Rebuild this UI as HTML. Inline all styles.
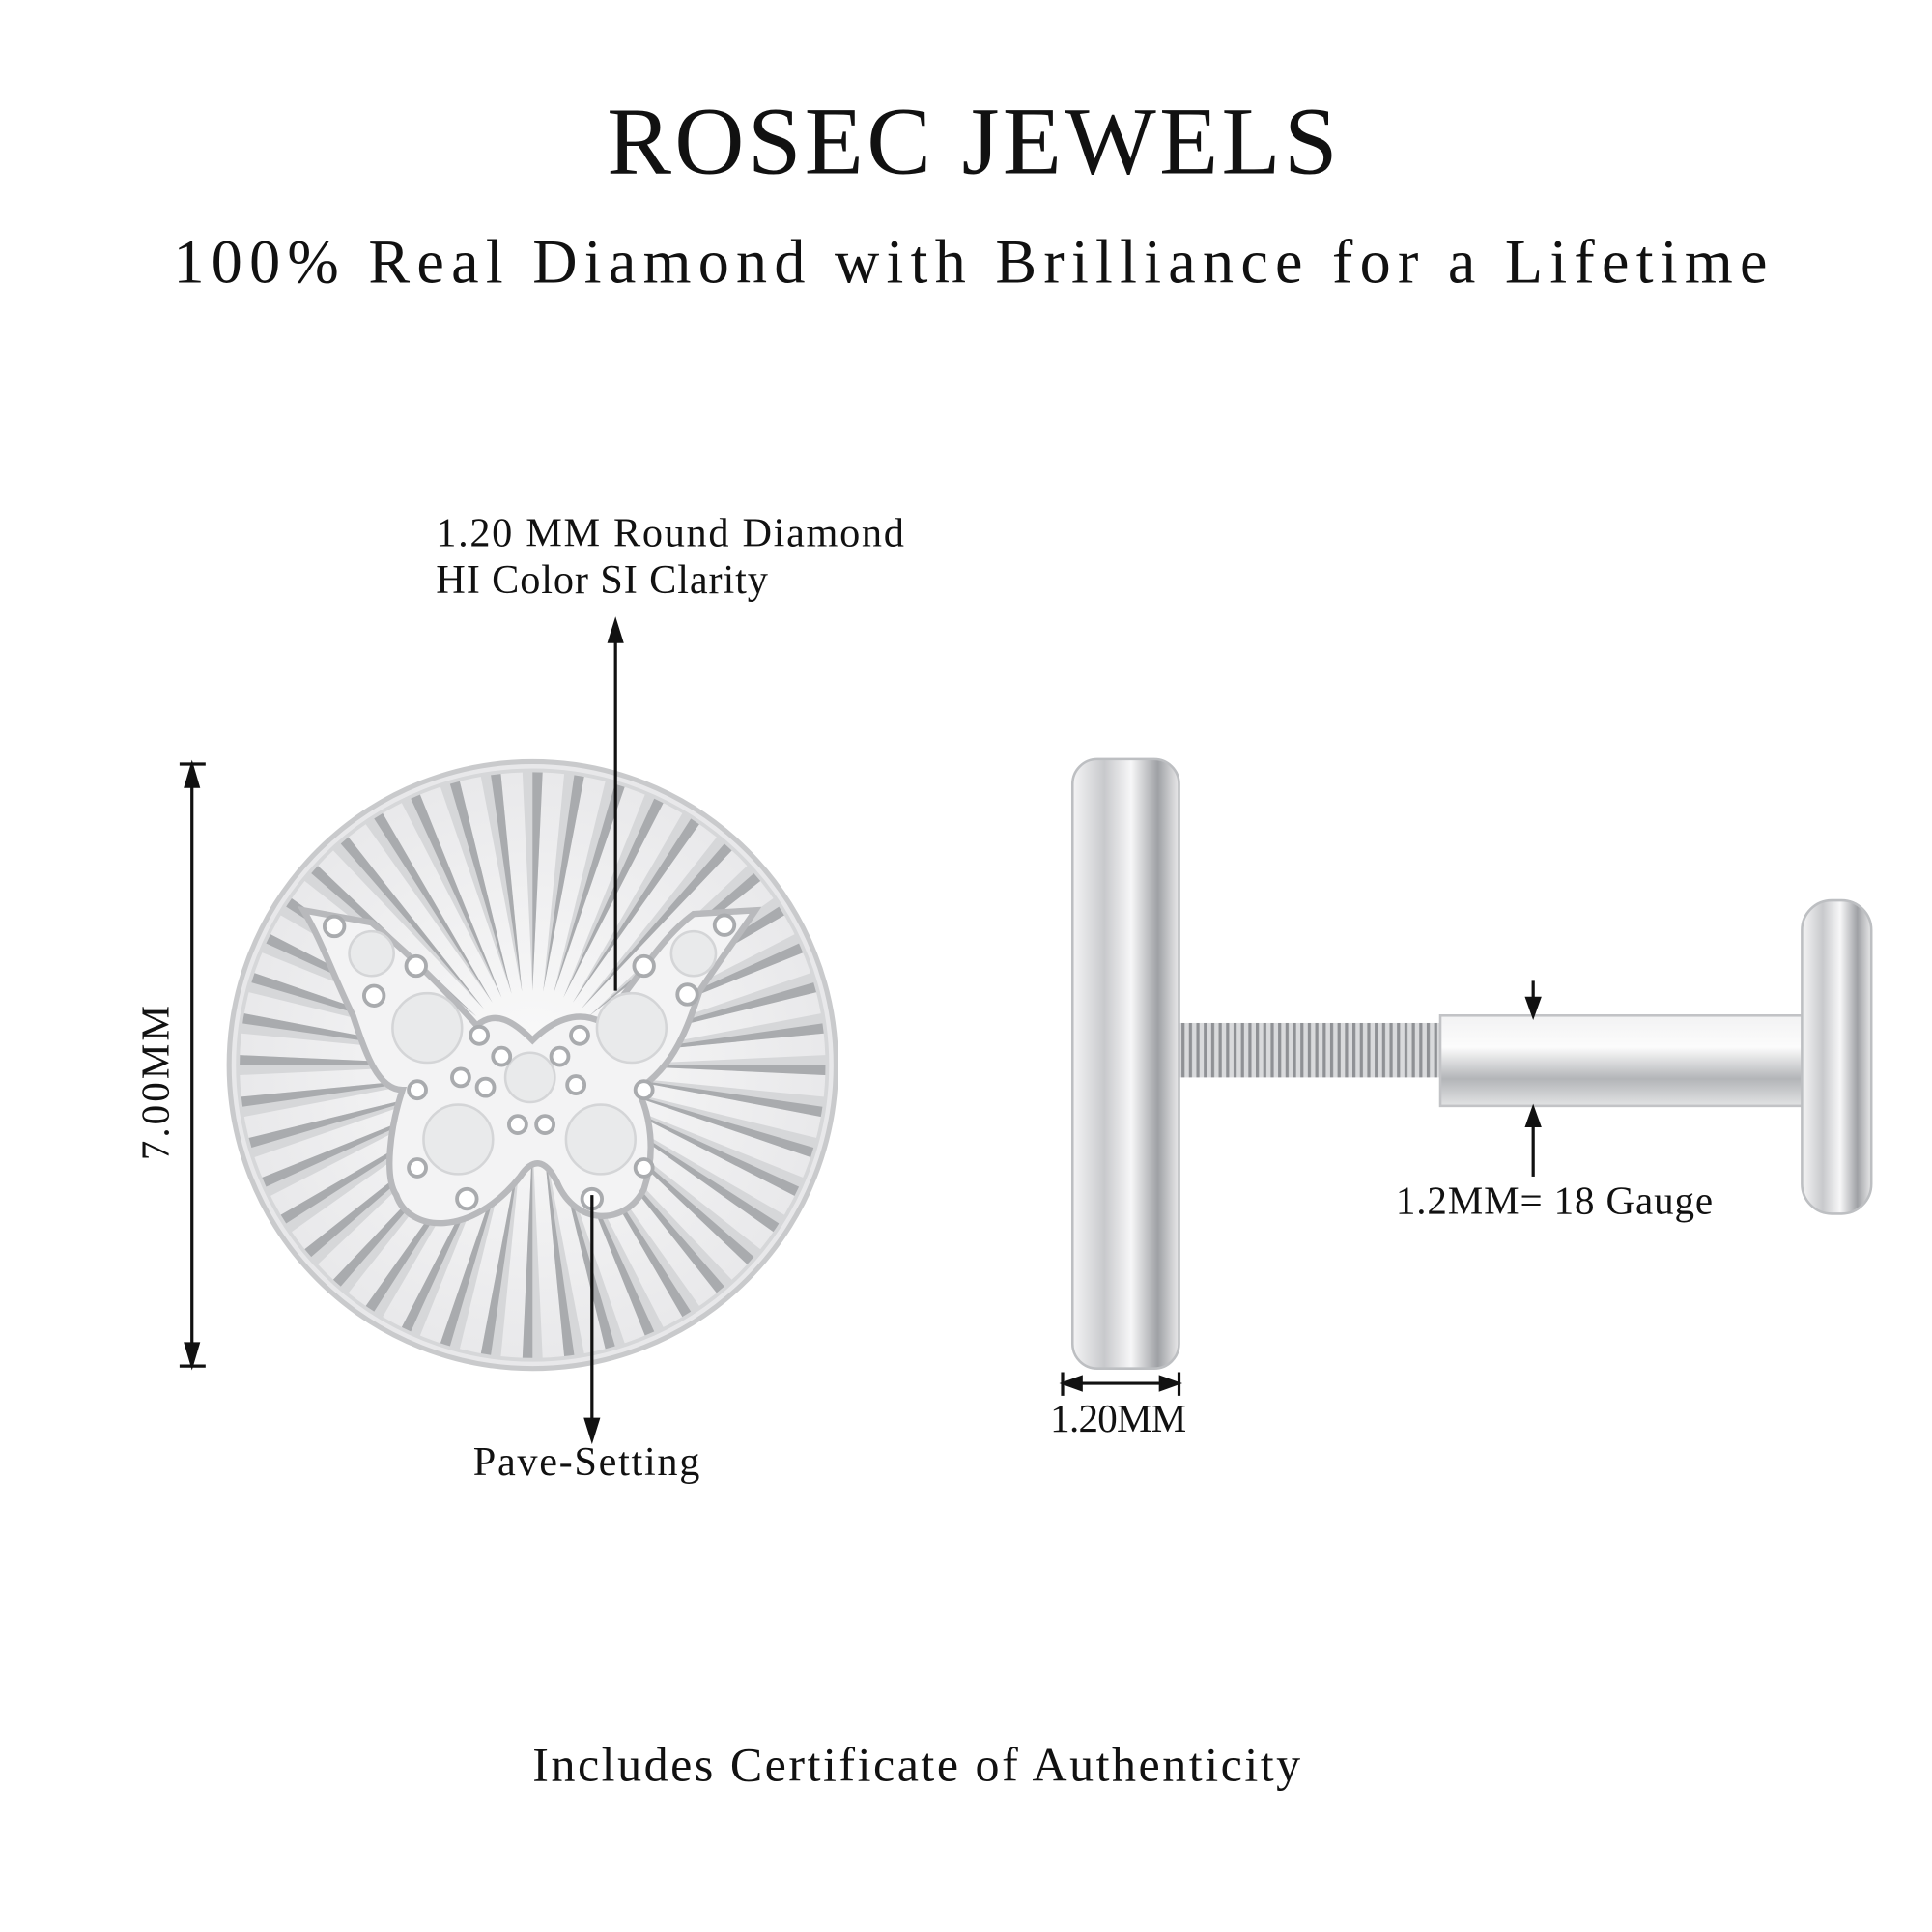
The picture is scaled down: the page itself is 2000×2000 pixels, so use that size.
<!DOCTYPE html>
<html><head><meta charset="utf-8"><style>
html,body{margin:0;padding:0;background:#fff}
svg{display:block}
text{font-family:"Liberation Serif","DejaVu Serif",serif;fill:#111}
</style></head><body>
<svg width="2000" height="2000" viewBox="0 0 1560 1560" xmlns="http://www.w3.org/2000/svg">
<defs>
<radialGradient id="coin" cx="50%" cy="50%" r="50%">
<stop offset="0" stop-color="#fafafa"/><stop offset="1" stop-color="#e8e8ea"/></radialGradient>
<linearGradient id="disc" x1="0" x2="1"><stop offset="0" stop-color="#f4f4f5"/><stop offset="0.3" stop-color="#c8c9cc"/><stop offset="0.55" stop-color="#f7f7f8"/><stop offset="0.8" stop-color="#9fa1a5"/><stop offset="1" stop-color="#e9e9ea"/></linearGradient>
<linearGradient id="post" x1="0" y1="0" x2="0" y2="1"><stop offset="0" stop-color="#f2f2f3"/><stop offset="0.35" stop-color="#fcfcfc"/><stop offset="0.7" stop-color="#b3b5b8"/><stop offset="1" stop-color="#e2e3e4"/></linearGradient>
<pattern id="thr" width="6" height="50" patternUnits="userSpaceOnUse"><rect width="6" height="50" fill="#d9dadc"/><rect width="2.5" height="50" fill="#8f9195"/></pattern>
<clipPath id="cc"><circle cx="430" cy="860" r="238"/></clipPath>
</defs>

<text x="490" y="140" font-size="78" textLength="590" lengthAdjust="spacing">ROSEC JEWELS</text>
<text x="140" y="228" font-size="50" textLength="1287" lengthAdjust="spacing">100% Real Diamond with Brilliance for a Lifetime</text>

<!-- coin -->
<circle cx="430" cy="860" r="245" fill="url(#coin)" stroke="#c9cacc" stroke-width="4"/>
<g clip-path="url(#cc)" id="rays"></g>
<circle cx="430" cy="860" r="238" fill="none" stroke="#d6d7d9" stroke-width="3"/>
<!-- butterfly -->
<path d="M430 840 C415 825 400 815 385 828 C360 800 330 770 300 745 L245 735 C260 760 270 790 285 820 C295 850 305 880 325 880 C315 910 310 950 320 965 C330 995 380 1000 420 950 C430 935 440 935 450 955 C465 990 505 990 520 960 C530 930 525 900 515 880 C545 860 555 830 565 800 C585 770 600 750 610 735 L560 738 C530 760 510 800 485 825 C465 815 445 825 430 840 Z" fill="#f3f3f4" stroke="#b8b9bc" stroke-width="5"/>
<g fill="#e9eaeb" stroke="#d4d5d7" stroke-width="2">
<circle cx="300" cy="770" r="18"/><circle cx="345" cy="830" r="28"/><circle cx="510" cy="830" r="28"/><circle cx="560" cy="770" r="18"/><circle cx="428" cy="870" r="20"/><circle cx="370" cy="920" r="28"/><circle cx="485" cy="920" r="28"/>
</g>
<g fill="#fff" stroke="#a9abae" stroke-width="3">
<circle cx="270" cy="748" r="8"/><circle cx="336" cy="780" r="8"/><circle cx="302" cy="804" r="8"/><circle cx="387" cy="836" r="7"/><circle cx="405" cy="853" r="7"/><circle cx="452" cy="853" r="7"/><circle cx="468" cy="836" r="7"/><circle cx="372" cy="870" r="7"/><circle cx="392" cy="878" r="7"/><circle cx="465" cy="876" r="7"/><circle cx="337" cy="880" r="7"/><circle cx="520" cy="880" r="7"/><circle cx="520" cy="780" r="8"/><circle cx="555" cy="803" r="8"/><circle cx="585" cy="747" r="8"/><circle cx="418" cy="908" r="7"/><circle cx="440" cy="908" r="7"/><circle cx="337" cy="943" r="7"/><circle cx="520" cy="943" r="7"/><circle cx="377" cy="968" r="8"/><circle cx="478" cy="968" r="8"/>
</g>

<g stroke="#111" stroke-width="2.5" fill="#111">
<line x1="145" y1="617" x2="166" y2="617"/><line x1="145" y1="1103" x2="166" y2="1103"/>
<line x1="155" y1="625" x2="155" y2="1095"/>
<path d="M155 618 L150 635 L160 635Z"/><path d="M155 1102 L150 1085 L160 1085Z"/>
<line x1="497" y1="512" x2="497" y2="800"/><path d="M497 502 L492 518 L502 518Z"/>
<line x1="478" y1="965" x2="478" y2="1150"/><path d="M478 1162 L473 1146 L483 1146Z"/>
</g>
<text transform="translate(136 937) rotate(-90)" font-size="32" textLength="125" lengthAdjust="spacing">7.00MM</text>
<text x="352" y="441" font-size="33" textLength="378" lengthAdjust="spacing">1.20 MM Round Diamond</text>
<text x="352" y="479" font-size="33" textLength="268" lengthAdjust="spacing">HI Color SI Clarity</text>
<text x="382" y="1191" font-size="33" textLength="183" lengthAdjust="spacing">Pave-Setting</text>

<!-- side view -->
<rect x="952" y="826" width="214" height="44" fill="url(#thr)"/>
<rect x="1163" y="820" width="300" height="73" fill="url(#post)" stroke="#c2c3c6" stroke-width="2"/>
<rect x="1455" y="727" width="56" height="253" rx="24" fill="url(#disc)" stroke="#bdbfc2" stroke-width="2"/>
<rect x="866" y="613" width="86" height="492" rx="20" fill="url(#disc)" stroke="#bdbfc2" stroke-width="2"/>
<g stroke="#111" stroke-width="2.5" fill="#111">
<line x1="1238" y1="792" x2="1238" y2="810"/><path d="M1238 820 L1233 806 L1243 806Z"/>
<line x1="1238" y1="950" x2="1238" y2="905"/><path d="M1238 895 L1233 909 L1243 909Z"/>
<line x1="858" y1="1108" x2="858" y2="1127"/><line x1="952" y1="1108" x2="952" y2="1127"/>
<line x1="866" y1="1117" x2="944" y2="1117"/><path d="M859 1117 L873 1112 L873 1122Z"/><path d="M951 1117 L937 1112 L937 1122Z"/>
</g>
<text x="1127" y="980" font-size="32" textLength="256" lengthAdjust="spacing">1.2MM= 18 Gauge</text>
<text x="848" y="1156" font-size="32" textLength="110" lengthAdjust="spacing">1.20MM</text>
<text x="430" y="1438" font-size="39" textLength="620" lengthAdjust="spacing">Includes Certificate of Authenticity</text>
</svg>
<script>
var g=document.getElementById('rays'),s='';
for(var i=0;i<44;i++){var a=i*2*Math.PI/44,w=0.035;
var x1=430+60*Math.cos(a),y1=860+60*Math.sin(a);
var x2=430+250*Math.cos(a-w),y2=860+250*Math.sin(a-w),x3=430+250*Math.cos(a+w),y3=860+250*Math.sin(a+w);
s+='<path d="M'+x1+' '+y1+' L'+x2+' '+y2+' L'+x3+' '+y3+'Z" fill="#d6d7d9"/>';
var x4=430+250*Math.cos(a),y4=860+250*Math.sin(a);
s+='<path d="M'+x1+' '+y1+' L'+x4+' '+y4+' L'+x3+' '+y3+'Z" fill="#a9abae"/>';}
g.innerHTML=s;
</script>
</body></html>
